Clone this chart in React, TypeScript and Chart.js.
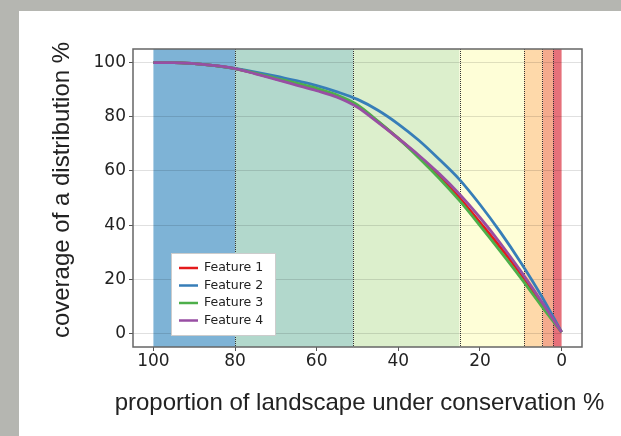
import React, { useEffect, useRef } from "react";
import { Chart, registerables } from "chart.js";

Chart.register(...registerables);

// ---- data ----
const xValues = [100, 95, 90, 85, 80, 75, 70, 65, 60, 55, 50, 45, 40, 35, 30, 25, 20, 15, 10, 5, 0];
const feature1 = [100, 100, 99.6, 98.9, 97.8, 96.0, 94.0, 92.0, 89.9, 87.5, 84.0, 78.2, 72.0, 65.4, 58.2, 50.0, 41.0, 31.8, 22.0, 11.4, 0.5];
const feature2 = [100, 100, 99.6, 98.9, 97.8, 96.5, 95.0, 93.3, 91.5, 89.2, 86.4, 82.4, 77.3, 71.3, 64.3, 56.8, 47.6, 37.4, 26.2, 14.0, 0.5];
const feature3 = [100, 100, 99.6, 98.9, 97.8, 96.1, 94.2, 92.4, 90.5, 88.0, 84.4, 78.4, 72.0, 64.9, 57.3, 49.0, 39.8, 30.3, 20.5, 10.3, 0.5];
const feature4 = [100, 100, 99.6, 98.9, 97.8, 95.8, 93.8, 91.7, 89.6, 87.2, 83.5, 77.9, 72.0, 65.8, 59.0, 51.4, 42.8, 33.3, 23.0, 12.0, 0.5];
const seriesNames = ["Feature 1", "Feature 2", "Feature 3", "Feature 4"];
const seriesColors = ["#e41a1c", "#377eb8", "#4daf4a", "#984ea3"];
const xTicks = [100, 80, 60, 40, 20, 0];
const yTicks = [0, 20, 40, 60, 80, 100];
const bandEdges = [100, 80, 51, 25, 9.2, 4.7, 2.1, 0];
const bandColors = ["#7eb3d6", "#b2d8cc", "#dcefcc", "#fefed7", "#fed9aa", "#f4aa8d", "#e6707a"];
const xTitle = "proportion of landscape under conservation %";
const yTitle = "coverage of a distribution %";

const bandsPlugin = {
  id: "bands",
  beforeDraw(chart: any) {
    const { ctx, chartArea: a, scales } = chart;
    const x = scales.x;
    ctx.save();
    ctx.fillStyle = "#ffffff";
    ctx.fillRect(a.left, a.top, a.right - a.left, a.bottom - a.top);
    for (let i = 0; i < bandColors.length; i++) {
      const p1 = x.getPixelForValue(bandEdges[i]);
      const p2 = x.getPixelForValue(bandEdges[i + 1]);
      ctx.fillStyle = bandColors[i];
      ctx.fillRect(Math.min(p1, p2), a.top, Math.abs(p2 - p1), a.bottom - a.top);
    }
    ctx.strokeStyle = "#333333";
    ctx.lineWidth = 1;
    ctx.setLineDash([1, 1]);
    for (let i = 1; i < bandEdges.length - 1; i++) {
      const p = Math.round(x.getPixelForValue(bandEdges[i])) + 0.5;
      ctx.beginPath();
      ctx.moveTo(p, a.top);
      ctx.lineTo(p, a.bottom);
      ctx.stroke();
    }
    ctx.restore();
  },
};

const legendPlugin = {
  id: "customLegend",
  afterDatasetsDraw(chart: any) {
    const { ctx, chartArea: a } = chart;
    const left = a.left + 38;
    const top = a.top + 204;
    const w = 104;
    const h = 82;
    ctx.save();
    ctx.fillStyle = "#ffffff";
    ctx.fillRect(left, top, w, h);
    ctx.strokeStyle = "#cccccc";
    ctx.lineWidth = 1;
    ctx.strokeRect(left + 0.5, top + 0.5, w, h);
    ctx.font = "12.5px 'DejaVu Sans'";
    ctx.textBaseline = "middle";
    ctx.fillStyle = "#222222";
    chart.data.datasets.forEach((ds: any, i: number) => {
      const y = top + 15 + i * 17.5;
      ctx.strokeStyle = ds.borderColor;
      ctx.lineWidth = 2.5;
      ctx.beginPath();
      ctx.moveTo(left + 8, y);
      ctx.lineTo(left + 27, y);
      ctx.stroke();
      ctx.fillText(ds.label, left + 33, y);
    });
    ctx.restore();
  },
};

const framePlugin = {
  id: "frame",
  afterDraw(chart: any) {
    const { ctx, chartArea: a } = chart;
    ctx.save();
    ctx.strokeStyle = "#666666";
    ctx.lineWidth = 1.5;
    ctx.strokeRect(a.left, a.top, a.right - a.left, a.bottom - a.top);
    // axis titles
    ctx.fillStyle = "#222222";
    ctx.font = "24px 'Liberation Sans'";
    ctx.textAlign = "center";
    ctx.textBaseline = "middle";
    ctx.fillText(xTitle, (a.left + a.right) / 2 + 2, 392);
    ctx.translate(43, (a.top + a.bottom) / 2 - 8);
    ctx.rotate(-Math.PI / 2);
    ctx.fillText(yTitle, 0, 0);
    ctx.restore();
  },
};

export default function App() {
  const ref = useRef<HTMLCanvasElement | null>(null);
  useEffect(() => {
    if (!ref.current) return;
    const series = [feature1, feature2, feature3, feature4];
    const chart = new Chart(ref.current, {
      type: "line",
      data: {
        datasets: series.map((vals, i) => ({
          label: seriesNames[i],
          data: xValues.map((xv, j) => ({ x: xv, y: vals[j] })),
          borderColor: seriesColors[i],
          backgroundColor: seriesColors[i],
          borderWidth: 2.8,
          pointRadius: 0,
          fill: false,
          cubicInterpolationMode: "monotone" as const,
          order: 4 - i,
        })),
      },
      options: {
        responsive: false,
        animation: false,
        devicePixelRatio: 1,
        layout: { padding: { left: 0, right: 39, top: 38, bottom: 0 } },
        plugins: { legend: { display: false }, tooltip: { enabled: false } },
        scales: {
          x: {
            type: "linear",
            min: -5,
            max: 105,
            reverse: true,
            afterBuildTicks: (s: any) => {
              s.ticks = xTicks.map((v) => ({ value: v }));
            },
            afterFit: (s: any) => {
              s.height = 89;
            },
            grid: { drawOnChartArea: false, drawTicks: true, tickLength: 4, tickColor: "#555555" },
            border: { display: false },
            ticks: { font: { family: "'DejaVu Sans'", size: 17 }, color: "#222222", padding: 0, maxRotation: 0 },
          },
          y: {
            type: "linear",
            min: -5,
            max: 105,
            afterBuildTicks: (s: any) => {
              s.ticks = yTicks.map((v) => ({ value: v }));
            },
            afterFit: (s: any) => {
              s.width = 114;
            },
            grid: { color: "rgba(0,0,0,0.12)", lineWidth: 1, drawTicks: true, tickLength: 4, tickColor: "#555555" },
            border: { display: false },
            ticks: { font: { family: "'DejaVu Sans'", size: 17 }, color: "#222222", padding: 3 },
          },
        },
      },
      plugins: [bandsPlugin, legendPlugin, framePlugin],
    } as any);
    return () => chart.destroy();
  }, []);

  return (
    <div style={{ position: "fixed", left: 0, top: 0, width: 621, height: 436, background: "#b5b6b1" }}>
      <div style={{ position: "absolute", left: 19, top: 11, width: 602, height: 425, background: "#ffffff" }}>
        <canvas ref={ref} width={602} height={425} style={{ display: "block", width: 602, height: 425 }} />
      </div>
    </div>
  );
}
